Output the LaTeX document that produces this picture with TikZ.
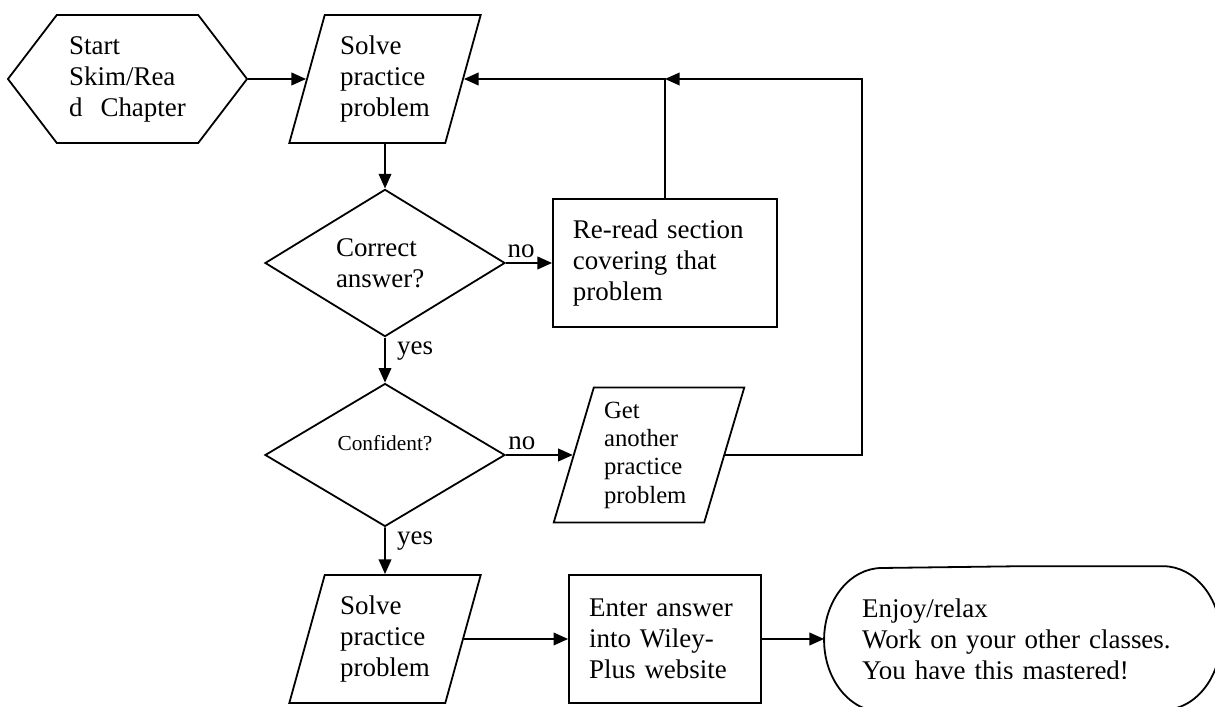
\documentclass[tikz,border=0pt]{standalone}
\usepackage{fontspec}
\setmainfont{Liberation Serif}
\usetikzlibrary{arrows.meta,shapes.geometric,shapes.symbols}

\begin{document}
\begin{tikzpicture}[
  x=0.445pt, y=0.445pt,
  line width=0.8pt,
  font=\fontsize{12}{13.8}\selectfont,
  startbox/.style={draw, signal, signal to=west and east, signal pointer angle=105.3, minimum width=106.4pt, minimum height=57pt, inner sep=0pt, text width=52pt, align=left},
  iobox/.style={draw, trapezium, trapezium left angle=73, trapezium right angle=107, trapezium stretches=true, minimum width=85.4pt, minimum height=57pt, inner sep=0pt, text width=40pt, align=left},
  decision/.style={draw, diamond, minimum width=106.8pt, minimum height=63.6pt, inner sep=0pt, text width=43.6pt, align=left},
  procbox/.style={draw, rectangle, minimum height=57pt, inner sep=0pt, align=left},
  arr/.style={-{Triangle[length=6.5pt,width=5.6pt]}},
  lbl/.style={inner sep=2pt}
]
\useasboundingbox (0,0) rectangle (1215,-707);

\node[startbox] (start) at (127.5,-79) {Start\\Skim/Rea\\d\ \ Chapter};
\node[iobox] (solve1) at (385,-79) {Solve\\practice\\problem};
\node[decision] (correct) at (385,-263) {Correct\\answer?};
\node[procbox, minimum width=99.7pt, text width=82pt] (reread) at (665,-263) {Re-read section\\covering that\\problem};
\node[decision, align=center, font=\fontsize{9.5}{11}\selectfont] (confident) at (385,-455) {Confident?\\\mbox{}};
\node[iobox, minimum height=60pt, font=\fontsize{11}{12.6}\selectfont] (getprob) at (649,-455) {Get\\another\\practice\\problem};
\node[iobox] (solve2) at (385,-639) {Solve\\practice\\problem};
\node[procbox, minimum width=85.4pt, text width=67.6pt] (enter) at (665,-639) {Enter answer\\into Wiley-\\Plus website};
\begin{scope}
  \clip (800,-550) rectangle (1215,-678);
  \node[minimum width=175.8pt, minimum height=64pt, inner sep=0pt, text width=142.8pt, align=left] (enjoy) at (1022.5,-639) {Enjoy/relax\\Work on your other classes.\\You have this mastered!};
\end{scope}
\draw (enjoy.north) -- ([xshift=-25.8pt]enjoy.north east)
  arc[start angle=90, end angle=-90, x radius=25.8pt, y radius=32pt]
  -- ([xshift=25.8pt]enjoy.south west)
  arc[start angle=270, end angle=90, x radius=25.8pt, y radius=32pt] -- cycle;

\coordinate (loop) at (862,-79);

\draw[arr] (start) -- (solve1);
\draw[arr] (solve1) -- (correct);
\draw[arr] (correct) -- node[lbl, above, pos=.33] {no} (reread);
\draw[arr] (correct) -- node[lbl, right=3pt, pos=.3] {yes} (confident);
\draw[arr] (confident) -- node[lbl, above, pos=.24] {no} (getprob);
\draw[arr] (confident) -- node[lbl, right=3pt, pos=.3] {yes} (solve2);
\draw[arr] (solve2) -- (enter);
\draw[arr] (enter) -- (enjoy);
\draw[arr] (reread.north) |- (solve1.east);
\draw[arr] (getprob.east) -| (loop) -- (reread.north |- solve1.east);
\end{tikzpicture}
\end{document}
